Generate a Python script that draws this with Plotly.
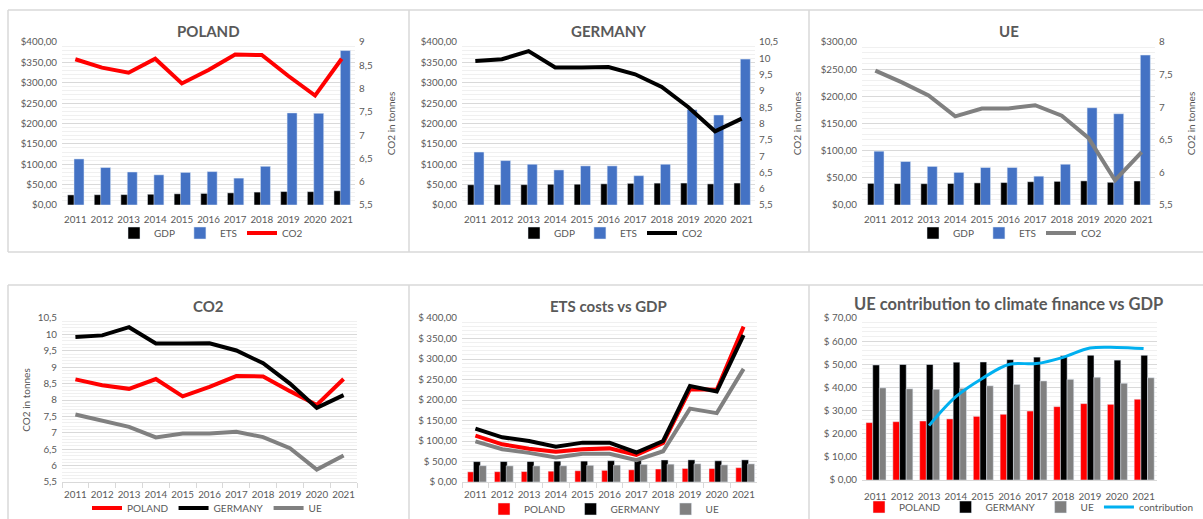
import plotly.graph_objects as go

years = [str(y) for y in range(2011, 2022)]
pl_gdp = [24.8, 25.2, 25.5, 26.4, 27.5, 28.4, 29.8, 31.7, 33.0, 32.7, 34.9]
de_gdp = [49.7, 49.9, 49.9, 50.9, 51.0, 52.0, 53.1, 53.7, 53.9, 51.8, 53.9]
ue_gdp = [39.8, 39.4, 39.2, 39.6, 40.7, 41.3, 42.8, 43.5, 44.4, 41.8, 44.2]
pl_ets = [113, 92, 81, 74, 80, 82, 66, 95, 226, 225, 379]
de_ets = [130, 109, 100, 86, 96, 96, 72, 100, 234, 221, 358]
ue_ets = [99, 80, 71, 60, 69, 69, 53, 75, 179, 168, 276]
pl_co2 = [8.63, 8.45, 8.34, 8.64, 8.11, 8.40, 8.73, 8.72, 8.27, 7.85, 8.64]
de_co2 = [9.92, 9.97, 10.22, 9.72, 9.72, 9.73, 9.51, 9.12, 8.50, 7.76, 8.15]
ue_co2 = [7.56, 7.38, 7.18, 6.86, 6.98, 6.98, 7.03, 6.87, 6.53, 5.88, 6.31]
contribution = [None, None, 23.5, 36.0, 44.0, 50.0, 50.3, 53.0, 57.0, 57.3, 56.8]

RED = "#FF0000"
BLACK = "#000000"
BLUE = "#4472C4"
GREY = "#808080"
CYAN = "#00B0F0"
TXT = "#595959"
GRID = "#D9D9D9"
MINOR = "#F0F0F0"
FONT = "Lato"

W, H = 1203, 519
def px(x):
    return x / W
def py(y):
    return 1 - y / H

fig = go.Figure()

# ---------- top row: country panels ----------
top = [
    ("POLAND", pl_gdp, pl_ets, pl_co2, RED, 1, 7, "legend"),
    ("GERMANY", de_gdp, de_ets, de_co2, BLACK, 2, 8, "legend2"),
    ("UE", ue_gdp, ue_ets, ue_co2, GREY, 3, 9, "legend3"),
]
for name, gdp, ets, co2, col, i, j, lg in top:
    xa = "x" if i == 1 else f"x{i}"
    ya = "y" if i == 1 else f"y{i}"
    fig.add_trace(go.Bar(x=years, y=gdp, name="GDP", marker_color=BLACK,
                         width=0.375, offset=-0.29, xaxis=xa, yaxis=ya, legend=lg))
    fig.add_trace(go.Bar(x=years, y=ets, name="ETS", marker_color=BLUE,
                         width=0.375, offset=-0.05, xaxis=xa, yaxis=ya, legend=lg))
    fig.add_trace(go.Scatter(x=years, y=co2, name="CO2", mode="lines",
                             line=dict(color=col, width=4), xaxis=xa, yaxis=f"y{j}", legend=lg))

# ---------- panel 4: CO2 ----------
for nm, vals, col in [("POLAND", pl_co2, RED), ("GERMANY", de_co2, BLACK), ("UE", ue_co2, GREY)]:
    fig.add_trace(go.Scatter(x=years, y=vals, name=nm, mode="lines",
                             line=dict(color=col, width=4), xaxis="x4", yaxis="y4", legend="legend4"))

# ---------- panel 5: ETS costs vs GDP ----------
for nm, vals, col, off in [("POLAND", pl_gdp, RED, -0.29), ("GERMANY", de_gdp, BLACK, -0.075), ("UE", ue_gdp, GREY, 0.15)]:
    fig.add_trace(go.Bar(x=years, y=vals, name=nm, marker_color=col, width=0.26, offset=off,
                         xaxis="x5", yaxis="y5", legend="legend5"))
for nm, vals, col in [("UE", ue_ets, GREY), ("POLAND", pl_ets, RED), ("GERMANY", de_ets, BLACK)]:
    fig.add_trace(go.Scatter(x=years, y=vals, name=nm, mode="lines", showlegend=False,
                             line=dict(color=col, width=4), xaxis="x5", yaxis="y5", legend="legend5"))

# ---------- panel 6: contribution ----------
for nm, vals, col, off in [("POLAND", pl_gdp, RED, -0.35), ("GERMANY", de_gdp, BLACK, -0.1), ("UE", ue_gdp, GREY, 0.146)]:
    fig.add_trace(go.Bar(x=years, y=vals, name=nm, marker_color=col, width=0.25, offset=off,
                         xaxis="x6", yaxis="y6", legend="legend6"))
fig.add_trace(go.Scatter(x=years, y=contribution, name="contribution", mode="lines",
                         line=dict(color=CYAN, width=3, shape="spline"), connectgaps=False,
                         xaxis="x6", yaxis="y6", legend="legend6"))

# ---------- axes ----------
panels = {
    1: (62, 355, 42, 205),
    2: (462, 755, 42, 205),
    3: (862, 1155, 42, 205),
    4: (62, 357, 318, 482),
    5: (462, 757, 318, 482),
    6: (862, 1157, 318, 480),
}
yspec = {
    1: dict(range=[0, 400], dtick=50, tickprefix="$", tickformat=".2f", minor=10),
    2: dict(range=[0, 400], dtick=50, tickprefix="$", tickformat=".2f", minor=10),
    3: dict(range=[0, 300], dtick=50, tickprefix="$", tickformat=".2f", minor=10),
    4: dict(range=[5.5, 10.5], dtick=0.5, tickprefix="", tickformat="", minor=0.1),
    5: dict(range=[0, 400], dtick=50, tickprefix="$ ", tickformat=".2f", minor=10),
    6: dict(range=[0, 70], dtick=10, tickprefix="$ ", tickformat=".2f", minor=2),
}
tickfont = dict(family=FONT, size=9.8, color=TXT)
lay = {}
for i, (x0, x1, y0, y1) in panels.items():
    xk = "xaxis" if i == 1 else f"xaxis{i}"
    yk = "yaxis" if i == 1 else f"yaxis{i}"
    ya = "y" if i == 1 else f"y{i}"
    xa = "x" if i == 1 else f"x{i}"
    ticks = i in (4, 5)
    lay[xk] = dict(domain=[px(x0), px(x1)], anchor=ya, type="category",
                   range=[-0.5, 10.5], tickfont=tickfont, showgrid=False, tickangle=0,
                   showline=i >= 4, linecolor=GRID, linewidth=1, automargin=False,
                   ticks="outside" if ticks else "", tickson="boundaries" if ticks else None,
                   ticklen=5, tickcolor=GRID, fixedrange=True,
                   ticklabelstandoff=3 if ticks else 7)
    s = yspec[i]
    lay[yk] = dict(domain=[py(y1), py(y0)], anchor=xa, range=s["range"], dtick=s["dtick"],
                   tick0=s["range"][0], tickprefix=s["tickprefix"], tickformat=s["tickformat"],
                   tickfont=tickfont, showgrid=True, gridcolor=GRID, gridwidth=1,
                   zeroline=False, showline=False, ticks="", automargin=False,
                   ticklabelstandoff=4,
                   minor=dict(dtick=s["minor"], showgrid=True, gridcolor=MINOR, gridwidth=1),
                   fixedrange=True)
lay["yaxis4"]["title"] = dict(text="CO2 in tonnes", font=dict(family=FONT, size=10, color=TXT), standoff=5)

right = {7: (1, [5.5, 9]), 8: (2, [5.5, 10.5]), 9: (3, [5.5, 8])}
for j, (i, rng) in right.items():
    xa = "x" if i == 1 else f"x{i}"
    ya = "y" if i == 1 else f"y{i}"
    x0, x1, y0, y1 = panels[i]
    lay[f"yaxis{j}"] = dict(domain=[py(y1), py(y0)], anchor=xa, overlaying=ya, side="right",
                            range=rng, dtick=0.5, tick0=5.5, tickfont=tickfont, automargin=False,
                            showgrid=False, zeroline=False, showline=False, ticks="",
                            ticklabelstandoff=3,
                            title=dict(text="CO2 in tonnes", font=dict(family=FONT, size=10, color=TXT), standoff=16),
                            fixedrange=True)

# ---------- legends ----------
legpos = {"legend": (211, 233), "legend2": (611, 233), "legend3": (1010, 233),
          "legend4": (207, 508), "legend5": (604, 509), "legend6": (1029, 507)}
for k, (cx, cy) in legpos.items():
    lay[k] = dict(x=px(cx), y=py(cy), xanchor="center", yanchor="middle", orientation="h",
                  font=dict(family=FONT, size=10, color=TXT), bgcolor="rgba(0,0,0,0)",
                  itemclick=False, itemdoubleclick=False)

# ---------- titles ----------
titles = [("POLAND", 208, 31, 15), ("GERMANY", 608, 31, 15), ("UE", 1009, 31, 15),
          ("CO2", 208, 306, 15), ("ETS costs vs GDP", 608, 306, 15),
          ("UE contribution to climate finance vs GDP", 1008, 304, 16.5)]
annotations = []
for t, cx, cy, fs in titles:
    annotations.append(dict(text=f"<b>{t}</b>", x=px(cx), y=py(cy), xref="paper", yref="paper",
                            xanchor="center", yanchor="middle", showarrow=False,
                            font=dict(family=FONT, size=fs, color=TXT)))

# ---------- panel borders ----------
B = "#D9D9D9"
shapes = []
def seg(xa, ya, xb, yb):
    shapes.append(dict(type="line", xref="paper", yref="paper", x0=px(xa), y0=py(ya),
                       x1=px(xb), y1=py(yb), line=dict(color=B, width=1.5)))
# top row
seg(8, 10, 1210, 10)
seg(8, 252, 1210, 252)
seg(8, 10, 8, 252)
seg(409, 10, 409, 252)
seg(809, 10, 809, 252)
# bottom row
seg(8, 285, 1210, 285)
seg(8, 285, 8, 525)
seg(409, 285, 409, 525)
seg(809, 285, 809, 525)

fig.update_layout(width=W, height=H, autosize=False,
                  margin=dict(l=0, r=0, t=0, b=0, autoexpand=False),
                  paper_bgcolor="white", plot_bgcolor="white", barmode="overlay",
                  separators=",.", font=dict(family=FONT, color=TXT), hovermode=False,
                  annotations=annotations, shapes=shapes, **lay)

fig.write_html("out.html", config={"displayModeBar": False, "staticPlot": True},
               post_script="document.body.style.margin='0';document.body.style.overflow='hidden';")
